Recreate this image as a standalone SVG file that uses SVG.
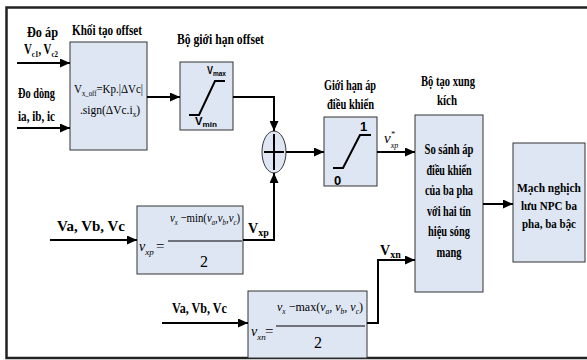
<svg xmlns="http://www.w3.org/2000/svg" width="587" height="360" viewBox="0 0 587 360">
<defs>
<style>
.t{font-family:"Liberation Serif",serif;font-weight:bold;font-size:14px;fill:#000}
.n{font-family:"Liberation Serif",serif;font-size:13px;fill:#000}
.f{font-family:"Liberation Serif",serif;font-style:italic;font-size:13px;fill:#000}
.u{font-family:"Liberation Serif",serif;font-size:15px;fill:#000}
.s{font-family:"Liberation Sans",sans-serif;font-weight:bold;font-size:11px;fill:#000}
.box{fill:#dde6f2;stroke:#333;stroke-width:1}
.w{fill:none;stroke:#000;stroke-width:2}
.c{fill:none;stroke:#000;stroke-width:2}
</style>
<marker id="ar" markerUnits="userSpaceOnUse" markerWidth="10" markerHeight="9" refX="10" refY="4.5" orient="auto">
<path d="M0,0 L10,4.5 L0,9 z" fill="#000"/>
</marker>
</defs>
<rect width="587" height="360" fill="#fff"/>
<g id="frame" fill="none" stroke="#222" stroke-width="2.5">
<polyline points="587,7.5 6.5,7.5 6.5,358 587,358"/>
</g>
<g id="inputs">
<text class="t" x="27" y="37" textLength="31" lengthAdjust="spacingAndGlyphs">Đo áp</text>
<text class="t" x="24" y="54" textLength="34" lengthAdjust="spacingAndGlyphs">V<tspan font-size="9" dy="3">c1</tspan><tspan dy="-3">, V</tspan><tspan font-size="9" dy="3">c2</tspan></text>
<text class="t" x="18" y="98" textLength="37" lengthAdjust="spacingAndGlyphs">Đo dòng</text>
<text class="t" x="18" y="121" textLength="37" lengthAdjust="spacingAndGlyphs">ia, ib, ic</text>
<text class="t" x="57" y="231" textLength="68" lengthAdjust="spacingAndGlyphs">Va, Vb, Vc</text>
<text class="t" x="172" y="313" textLength="55" lengthAdjust="spacingAndGlyphs">Va, Vb, Vc</text>
</g>
<g id="offset-block">
<text class="t" x="72" y="35" textLength="70" lengthAdjust="spacingAndGlyphs">Khối tạo offset</text>
<rect class="box" x="70" y="42" width="77" height="108"/>
<text class="n" x="74" y="93" textLength="69" lengthAdjust="spacingAndGlyphs">V<tspan font-size="8" dy="3">x_off</tspan><tspan dy="-3">=Kp.|ΔVc|</tspan></text>
<text class="n" x="80" y="114" textLength="60" lengthAdjust="spacingAndGlyphs">.sign(ΔVc.i<tspan font-size="8" dy="3">x</tspan><tspan dy="-3">)</tspan></text>
</g>
<g id="offset-limiter">
<text class="t" x="177" y="44" textLength="87" lengthAdjust="spacingAndGlyphs">Bộ giới hạn offset</text>
<rect class="box" x="180" y="62" width="53" height="68"/>
<polyline class="w" points="189,115 199,115 215,81 225,81"/>
<text class="s" x="207" y="74" textLength="19" lengthAdjust="spacingAndGlyphs">V<tspan font-size="8" dy="2">max</tspan></text>
<text class="s" x="195" y="125" textLength="22" lengthAdjust="spacingAndGlyphs">V<tspan font-size="8" dy="2">min</tspan></text>
</g>
<g id="sum">
<ellipse cx="274" cy="152" rx="12" ry="21" fill="#dde6f2" stroke="#333" stroke-width="1"/>
<line x1="264" y1="152" x2="284" y2="152" stroke="#000" stroke-width="2"/>
<line x1="274" y1="134" x2="274" y2="170" stroke="#000" stroke-width="2"/>
</g>
<g id="control-limiter">
<text class="t" x="324" y="90" textLength="52" lengthAdjust="spacingAndGlyphs">Giới hạn áp</text>
<text class="t" x="327" y="109" textLength="47" lengthAdjust="spacingAndGlyphs">điều khiển</text>
<rect class="box" x="324" y="117" width="53" height="69"/>
<polyline class="w" points="333,168 343,168 360,135 371,135"/>
<text class="s" style="font-size:13px" x="360" y="131">1</text>
<text class="s" style="font-size:13px" x="334" y="185">0</text>
</g>
<g id="pwm-generator">
<text class="t" x="421" y="86" textLength="54" lengthAdjust="spacingAndGlyphs">Bộ tạo xung</text>
<text class="t" x="437" y="105" textLength="20" lengthAdjust="spacingAndGlyphs">kích</text>
<rect class="box" x="415" y="115" width="68" height="177"/>
<g class="t" text-anchor="middle">
<text x="449" y="154" textLength="49" lengthAdjust="spacingAndGlyphs">So sánh áp</text>
<text x="449" y="174.5" textLength="45" lengthAdjust="spacingAndGlyphs">điều khiển</text>
<text x="449" y="195" textLength="48" lengthAdjust="spacingAndGlyphs">của ba pha</text>
<text x="449" y="215.5" textLength="44" lengthAdjust="spacingAndGlyphs">với hai tín</text>
<text x="449" y="236" textLength="42" lengthAdjust="spacingAndGlyphs">hiệu sóng</text>
<text x="449" y="256.5" textLength="25" lengthAdjust="spacingAndGlyphs">mang</text>
</g>
</g>
<g id="inverter">
<rect class="box" x="513" y="143" width="72" height="119"/>
<g class="t" text-anchor="middle" style="font-size:13px">
<text x="549" y="192" textLength="64" lengthAdjust="spacingAndGlyphs">Mạch nghịch</text>
<text x="549" y="210" textLength="56" lengthAdjust="spacingAndGlyphs">lưu NPC ba</text>
<text x="549" y="228" textLength="54" lengthAdjust="spacingAndGlyphs">pha, ba bậc</text>
</g>
</g>
<g id="vxp-block">
<rect class="box" x="137" y="206" width="106" height="68"/>
<text class="f" style="font-size:14px" x="139" y="251">v<tspan font-size="9" dy="4">xp</tspan></text>
<text class="u" x="156" y="251">=</text>
<text class="f" x="170" y="222" textLength="70" lengthAdjust="spacingAndGlyphs">v<tspan font-size="8" dy="3">x</tspan><tspan dy="-3" font-style="normal"> −min(</tspan>v<tspan font-size="8" dy="3">a</tspan><tspan dy="-3">,</tspan>v<tspan font-size="8" dy="3">b</tspan><tspan dy="-3">,</tspan>v<tspan font-size="8" dy="3">c</tspan><tspan dy="-3" font-style="normal">)</tspan></text>
<line x1="168" y1="241" x2="242" y2="241" stroke="#000" stroke-width="1"/>
<text class="u" style="font-size:16px" x="200" y="267">2</text>
</g>
<g id="vxn-block">
<rect class="box" x="248" y="291" width="119" height="67"/>
<text class="f" style="font-size:14px" x="251" y="336">v<tspan font-size="9" dy="4">xn</tspan></text>
<text class="u" x="265" y="336">=</text>
<text class="f" x="277" y="311" textLength="86" lengthAdjust="spacingAndGlyphs">v<tspan font-size="8" dy="3">x</tspan><tspan dy="-3" font-style="normal"> −max(</tspan>v<tspan font-size="8" dy="3">a</tspan><tspan dy="-3">, </tspan>v<tspan font-size="8" dy="3">b</tspan><tspan dy="-3">, </tspan>v<tspan font-size="8" dy="3">c</tspan><tspan dy="-3" font-style="normal">)</tspan></text>
<line x1="276" y1="326" x2="365" y2="326" stroke="#000" stroke-width="1"/>
<text class="u" style="font-size:16px" x="314" y="348">2</text>
</g>
<g id="connectors">
<line class="c" x1="17" y1="63" x2="70" y2="63" marker-end="url(#ar)"/>
<line class="c" x1="17" y1="128" x2="70" y2="128" marker-end="url(#ar)"/>
<line class="c" x1="147" y1="97" x2="180" y2="97" marker-end="url(#ar)"/>
<polyline class="c" points="233,97 274,97 274,131" marker-end="url(#ar)"/>
<polyline class="c" points="243,240 274,240 274,173" marker-end="url(#ar)"/>
<line class="c" x1="286" y1="152" x2="324" y2="152" marker-end="url(#ar)"/>
<line class="c" x1="377" y1="152" x2="415" y2="152" marker-end="url(#ar)"/>
<line class="c" x1="50" y1="240" x2="137" y2="240" marker-end="url(#ar)"/>
<line class="c" x1="162" y1="323" x2="248" y2="323" marker-end="url(#ar)"/>
<polyline class="c" points="367,323 378,323 378,260 415,260" marker-end="url(#ar)"/>
<line class="c" x1="483" y1="204" x2="513" y2="204" marker-end="url(#ar)"/>
<text class="f" style="font-size:15px" x="384" y="143">v<tspan font-size="8" dy="-6">*</tspan><tspan font-size="8" dx="-4" dy="11">xp</tspan></text>
<text class="t" x="248" y="233">V<tspan font-size="10" dy="3">xp</tspan></text>
<text class="t" x="380" y="255">V<tspan font-size="10" dy="3">xn</tspan></text>
</g>
</svg>
